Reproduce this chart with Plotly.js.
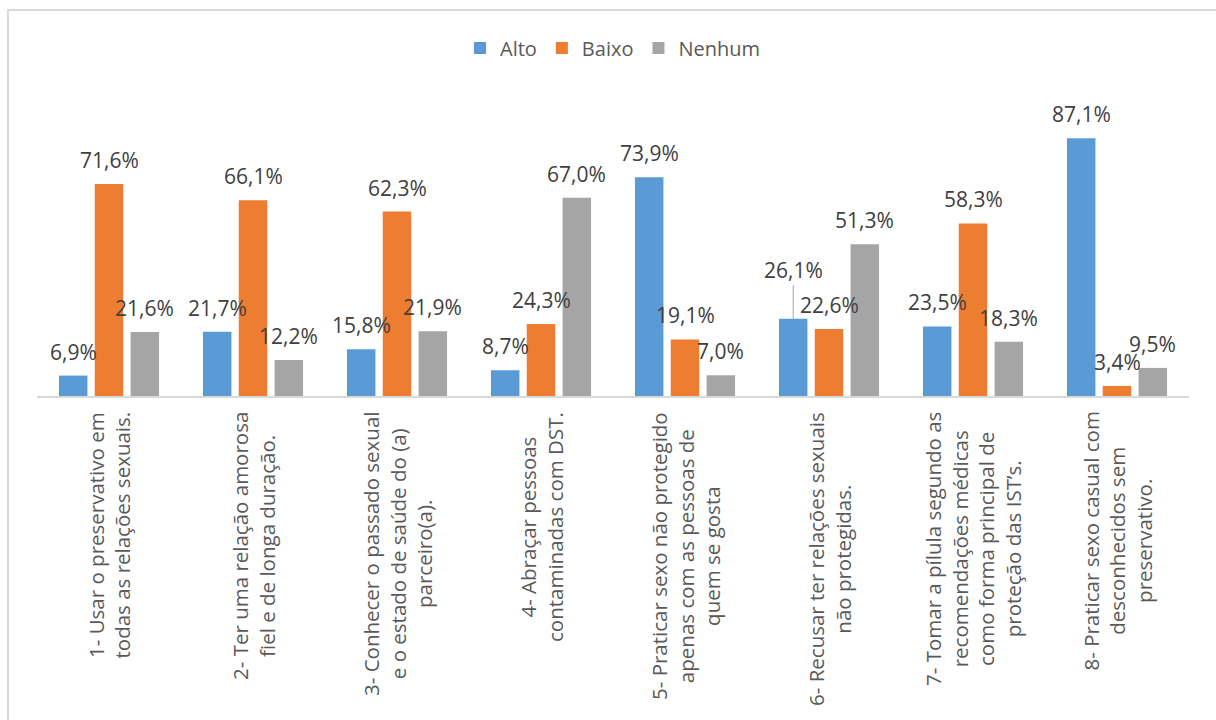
<!DOCTYPE html>
<html>
<head>
<meta charset="utf-8">
<script src="https://cdn.plot.ly/plotly-3.0.1.min.js"></script>
<style>
  html, body { margin: 0; padding: 0; background: #fff; }
  #wrap { position: relative; width: 1216px; height: 720px; overflow: hidden; }
  #chart { width: 1216px; height: 720px; }
  #frame { position: absolute; left: 7px; top: 9px; width: 1400px; height: 900px;
           border: 2px solid #d9d9d9; pointer-events: none; box-sizing: border-box; }
</style>
</head>
<body>
<div id="wrap">
  <div id="chart"></div>
  <div id="frame"></div>
</div>
<script>
const categories = [
  "1- Usar o preservativo em<br>todas as relações sexuais.",
  "2- Ter uma relação amorosa<br>fiel e de longa duração.",
  "3- Conhecer o passado sexual<br>e o estado de saúde do (a)<br>parceiro(a).",
  "4- Abraçar pessoas<br>contaminadas com DST.",
  "5- Praticar sexo não protegido<br>apenas com as pessoas de<br>quem se gosta",
  "6- Recusar ter relações sexuais<br>não protegidas.",
  "7- Tomar a pílula segundo as<br>recomendações médicas<br>como forma principal de<br>proteção das IST’s.",
  "8- Praticar sexo casual com<br>desconhecidos sem<br>preservativo."
];
const seriesNames = ["Alto", "Baixo", "Nenhum"];
const alto   = [6.9, 21.7, 15.8, 8.7, 73.9, 26.1, 23.5, 87.1];
const baixo  = [71.6, 66.1, 62.3, 24.3, 19.1, 22.6, 58.3, 3.4];
const nenhum = [21.6, 12.2, 21.9, 67.0, 7.0, 51.3, 18.3, 9.5];
const colors = ["#5b9bd5", "#ed7d31", "#a5a5a5"];

const W = 1216, H = 720;
const margin = {l: 37, r: 27, t: 100, b: 324};
const bargap = 0.254, bargroupgap = 0.204;
const allSeries = [alto, baixo, nenhum];

const traces = allSeries.map((vals, s) => ({
  type: 'bar',
  name: seriesNames[s],
  x: categories,
  y: vals,
  marker: {color: colors[s], line: {width: 0}},
  hoverinfo: 'skip'
}));

const fmt = v => v.toFixed(1).replace('.', ',') + '%';
const plotW = W - margin.l - margin.r;
const catW = plotW / categories.length;
const slot = catW * (1 - bargap) / allSeries.length;

const annotations = [];
allSeries.forEach((vals, s) => {
  vals.forEach((v, i) => {
    const lifted = (s === 0 && i === 5);
    const a = {
      x: categories[i], y: v, xref: 'x', yref: 'y',
      text: fmt(v),
      xshift: (s - 1) * slot,
      font: {family: 'Open Sans, sans-serif', size: 21, color: '#404040'}
    };
    if (lifted) {
      Object.assign(a, {showarrow: true, arrowhead: 0, arrowwidth: 1, arrowcolor: '#a6a6a6',
                        ax: 0, ay: -49, standoff: 0});
    } else {
      Object.assign(a, {showarrow: false, yanchor: 'middle', yshift: 24});
    }
    annotations.push(a);
  });
});
categories.forEach((c, i) => {
  annotations.push({
    x: c, y: 0, xref: 'x', yref: 'paper',
    text: c, showarrow: false, textangle: -90, align: 'center',
    xanchor: 'center', yanchor: 'top', yshift: -14,
    font: {family: 'Open Sans, sans-serif', size: 20.5, color: '#595959'}
  });
});

const layout = {
  width: W, height: H,
  margin: margin,
  paper_bgcolor: '#ffffff', plot_bgcolor: '#ffffff',
  barmode: 'group', bargap: bargap, bargroupgap: bargroupgap,
  showlegend: true,
  legend: {orientation: 'h', x: 0.5, xanchor: 'center', y: 1.176, yanchor: 'middle',
           font: {family: 'Open Sans, sans-serif', size: 20, color: '#595959'}},
  xaxis: {showticklabels: false, ticks: '', showline: true, linecolor: '#d9d9d9', linewidth: 2,
          showgrid: false, zeroline: false, fixedrange: true},
  yaxis: {range: [0, 100], visible: false, showgrid: false, zeroline: false, fixedrange: true},
  annotations: annotations
};

Plotly.newPlot('chart', traces, layout, {displayModeBar: false, staticPlot: true});
</script>
</body>
</html>
